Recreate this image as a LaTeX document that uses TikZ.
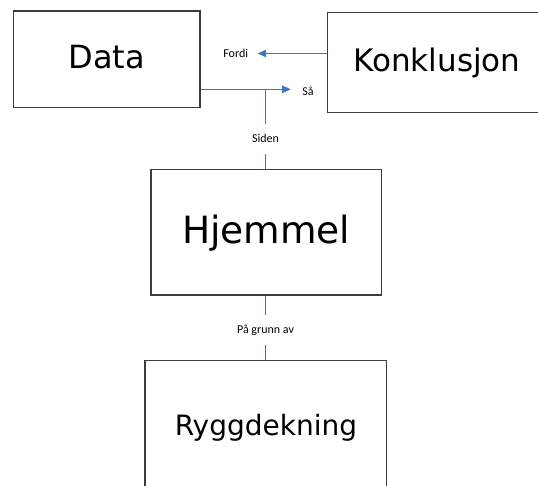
\documentclass[tikz,border=0pt]{standalone}
\usepackage{fontspec}
\usetikzlibrary{arrows.meta}
\newfontfamily\boxfont{DejaVu Sans}
\newfontfamily\lblfont{Carlito}
\definecolor{linkblue}{HTML}{4472C4}
\definecolor{boxedge}{HTML}{3C3C3C}
\tikzset{
  argbox/.style={draw=boxedge, line width=1.3pt, fill=white, inner sep=0pt,
    text depth=4pt},
  lbl/.style={inner sep=0pt, font=\lblfont\fontsize{12}{14}\selectfont,
    text height=7.7pt, text depth=0pt},
  conn/.style={draw=linkblue, line width=0.9pt},
  arr/.style={conn, -{Triangle[length=8.5pt,width=7.5pt]}, fill=linkblue}
}
\begin{document}
\begin{tikzpicture}[x=1pt, y=-1pt]
  \useasboundingbox (0,0) rectangle (538,485);
  \clip (0,0) rectangle (538,485);

  % the four boxes of the argument
  \node[argbox, minimum width=186.7pt, minimum height=96.3pt, text height=23.4pt,
        font=\boxfont\fontsize{32}{36}\selectfont] (data) at (106.7,59.2) {Data};
  \node[argbox, minimum width=219.4pt, minimum height=99.6pt, text height=22.6pt,
        font=\boxfont\fontsize{31}{35}\selectfont] (konk) at (437,62.5) {Konklusjon};
  \node[argbox, minimum width=230.3pt, minimum height=125.5pt, text height=27.4pt,
        font=\boxfont\fontsize{37.5}{42}\selectfont] (hjem) at (266.2,232.2) {Hjemmel};
  \node[argbox, minimum width=241.7pt, minimum height=133.3pt, text height=20.4pt,
        font=\boxfont\fontsize{28}{32}\selectfont] (rygg) at (265.9,427.4) {Ryggdekning};

  % labels on the links
  \node[lbl] (fordi) at (235.7,53.5) {Fordi};
  \node[lbl] (saa) at (308,91.7) {Så};
  \node[lbl, minimum height=29pt] (siden) at (265.5,138.8) {Siden};
  \node[lbl, minimum height=30pt] (grunn) at (265.5,330) {På grunn av};

  % free ends and the branching point
  \coordinate (fordiTip) at (257.7,53.5);
  \coordinate (saaTip) at (290.7,89.3);
  \coordinate (junc) at (265.5,89.3);

  % links
  \draw[arr] (fordiTip -| konk.west) -- (fordiTip);
  \draw[arr] (saaTip -| data.east) -- (saaTip);
  \draw[conn] (junc) -- (siden.north);
  \draw[conn] (siden.south) -- (siden.south |- hjem.north);
  \draw[conn] (grunn.north |- hjem.south) -- (grunn.north);
  \draw[conn] (grunn.south) -- (grunn.south |- rygg.north);
\end{tikzpicture}
\end{document}
